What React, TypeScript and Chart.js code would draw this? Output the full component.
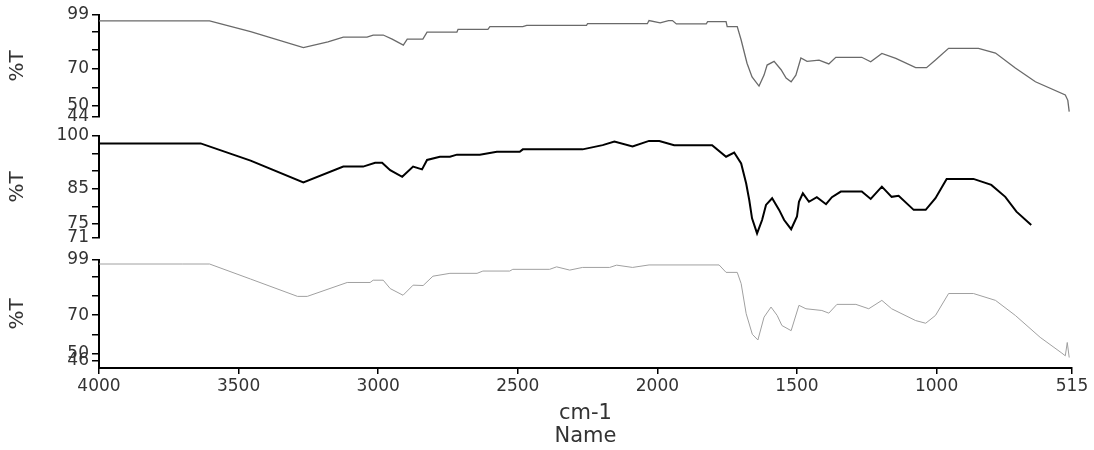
import { useEffect, useRef } from 'react';
import Chart from 'chart.js/auto';

// x axis (wavenumber, cm-1), drawn high -> low
const xTicks = [4000, 3500, 3000, 2500, 2000, 1500, 1000, 515];

// top spectrum
const wn1 = [4000, 3700, 3604, 3457, 3268, 3180, 3125, 3040, 3018, 2982, 2950, 2910, 2896, 2840, 2825, 2718, 2714, 2607, 2600, 2482, 2468, 2254, 2250, 2036, 2030, 1990, 1960, 1946, 1932, 1825, 1820, 1754, 1750, 1714, 1700, 1679, 1661, 1636, 1618, 1607, 1582, 1557, 1539, 1521, 1504, 1486, 1464, 1421, 1386, 1361, 1314, 1268, 1236, 1196, 1146, 1075, 1036, 1004, 957, 850, 789, 718, 646, 539, 530, 525];
const t1 = [95.8, 95.8, 95.8, 90, 81.4, 84.5, 87.1, 87.1, 88.2, 88.2, 86, 82.8, 86, 86, 89.8, 89.8, 91.3, 91.3, 92.7, 92.7, 93.4, 93.4, 94.3, 94.3, 96, 94.8, 96, 96, 94.2, 94.2, 95.4, 95.4, 92.7, 92.7, 85.5, 73, 65.6, 60.7, 66.6, 72, 74, 69.5, 65, 63, 66.6, 75.8, 74, 74.7, 72.6, 76.2, 76.2, 76.2, 73.8, 78.3, 75.6, 70.6, 70.6, 74.7, 81, 81, 78.5, 70.4, 63, 55.9, 53, 46.9];
const ticks1 = [99, 90, 80, 70, 60, 50, 44];
const labels1 = [99, 70, 50, 44];

// middle spectrum
const wn2 = [4000, 3700, 3636, 3457, 3268, 3125, 3054, 3011, 2986, 2957, 2914, 2875, 2843, 2825, 2779, 2743, 2718, 2636, 2575, 2493, 2482, 2268, 2196, 2154, 2089, 2030, 1993, 1940, 1804, 1754, 1725, 1700, 1682, 1671, 1661, 1643, 1625, 1611, 1589, 1564, 1546, 1521, 1500, 1493, 1479, 1457, 1429, 1396, 1375, 1343, 1268, 1236, 1196, 1161, 1136, 1082, 1039, 1004, 964, 868, 804, 754, 714, 661];
const t2 = [97.9, 97.9, 97.9, 93, 86.8, 91.3, 91.3, 92.4, 92.4, 90.3, 88.4, 91.3, 90.5, 93.2, 94.1, 94.1, 94.7, 94.7, 95.5, 95.5, 96.2, 96.2, 97.4, 98.4, 97, 98.6, 98.6, 97.4, 97.4, 94.1, 95.3, 92.2, 86.5, 81.8, 76.6, 72.3, 76.1, 80.4, 82.3, 79, 76.1, 73.5, 77.1, 81.3, 83.7, 81.3, 82.6, 80.6, 82.6, 84.2, 84.2, 82.1, 85.6, 82.7, 83, 79, 79, 82.3, 87.8, 87.8, 86.1, 82.7, 78.5, 74.7];
const ticks2 = [100, 95, 90, 85, 80, 75, 71];
const labels2 = [100, 85, 75, 71];

// bottom spectrum
const wn3 = [4000, 3700, 3604, 3457, 3289, 3254, 3111, 3029, 3018, 2982, 2957, 2911, 2875, 2839, 2804, 2743, 2646, 2625, 2529, 2518, 2386, 2361, 2314, 2268, 2171, 2146, 2089, 2030, 1779, 1754, 1714, 1700, 1682, 1660, 1640, 1618, 1593, 1571, 1554, 1521, 1493, 1468, 1411, 1386, 1357, 1289, 1243, 1196, 1161, 1075, 1039, 1004, 957, 868, 789, 718, 629, 554, 539, 532, 525];
const t3 = [96.9, 96.9, 96.9, 89, 79.9, 79.9, 87.2, 87.2, 88.4, 88.4, 84, 80.5, 85.8, 85.6, 90.5, 92, 92, 93.2, 93.2, 94.1, 94.1, 95.4, 93.7, 95.1, 95.1, 96.3, 95.1, 96.4, 96.4, 92.5, 92.5, 86.6, 70.8, 60, 57, 69, 74.3, 69.9, 64.6, 61.9, 75.2, 73.4, 72.5, 71.1, 75.7, 75.7, 73.4, 77.8, 73.4, 67.2, 65.8, 69.9, 81.4, 81.4, 77.8, 69.9, 58.4, 50.4, 48.7, 55.7, 47.8];
const ticks3 = [99, 90, 80, 70, 60, 50, 46];
const labels3 = [99, 70, 50, 46];

const FONT = 'DejaVu Sans';

type PanelProps = {
  wn: number[];
  t: number[];
  yMin: number;
  yMax: number;
  yTicks: number[];
  yLabels: number[];
  color: string;
  lineWidth: number;
  padTop: number;
  padBottom: number;
  showX: boolean;
};

const SpectrumPanel = (p: PanelProps) => {
  const chartRef = useRef<HTMLCanvasElement>(null);
  const chartInstance = useRef<Chart | null>(null);

  useEffect(() => {
    if (chartInstance.current) {
      chartInstance.current.destroy();
    }
    if (!chartRef.current) return;

    const points = p.wn.map((x, i) => ({ x, y: p.t[i] }));

    chartInstance.current = new Chart(chartRef.current, {
      type: 'line',
      data: {
        datasets: [
          {
            data: points,
            borderColor: p.color,
            borderWidth: p.lineWidth,
            pointRadius: 0,
            tension: 0,
            fill: false,
          },
        ],
      },
      options: {
        animation: false,
        responsive: true,
        maintainAspectRatio: false,
        events: [],
        layout: {
          padding: { top: p.padTop, bottom: p.padBottom, left: 0, right: 22 },
        },
        plugins: {
          legend: { display: false },
          tooltip: { enabled: false },
        },
        scales: {
          x: {
            type: 'linear',
            reverse: true,
            min: 515,
            max: 4000,
            display: p.showX,
            afterBuildTicks: (s: any) => {
              s.ticks = xTicks.map((v) => ({ value: v }));
            },
            afterFit: (s: any) => {
              // only the bottom panel carries the x axis
              s.height = p.showX ? 82 : 0;
            },
            grid: {
              display: true,
              drawOnChartArea: false,
              drawTicks: true,
              tickLength: 6,
              color: '#000',
              lineWidth: 1.5,
            },
            border: { display: true, color: '#000', width: 2 },
            ticks: {
              autoSkip: false,
              maxRotation: 0,
              padding: 2,
              color: '#333',
              font: { family: FONT, size: 17 },
              callback: (v: any) => String(v),
            },
            title: {
              display: true,
              text: ['cm-1', 'Name'],
              color: '#333',
              font: { family: FONT, size: 21, lineHeight: 1.1 },
              padding: { top: 0, bottom: 2 },
            },
          },
          y: {
            type: 'linear',
            min: p.yMin,
            max: p.yMax,
            afterBuildTicks: (s: any) => {
              s.ticks = p.yTicks.map((v) => ({ value: v }));
            },
            afterFit: (s: any) => {
              s.width = 99;
            },
            grid: {
              display: true,
              drawOnChartArea: false,
              drawTicks: true,
              tickLength: 7,
              color: '#000',
              lineWidth: 1.5,
            },
            border: { display: true, color: '#000', width: 2 },
            ticks: {
              autoSkip: false,
              padding: 3,
              color: '#333',
              font: { family: FONT, size: 17 },
              callback: (v: any) => (p.yLabels.includes(Number(v)) ? String(v) : ''),
            },
            title: {
              display: true,
              text: '%T',
              color: '#333',
              font: { family: FONT, size: 20 },
              padding: { top: 6, bottom: 0 },
            },
          },
        },
      },
    });

    return () => {
      if (chartInstance.current) {
        chartInstance.current.destroy();
        chartInstance.current = null;
      }
    };
  }, []);

  return (
    <div style={{ position: 'absolute', left: 0, top: 0, width: 1094, height: 450 }}>
      <canvas ref={chartRef}></canvas>
    </div>
  );
};

const App = () => {
  return (
    <div style={{ position: 'absolute', left: 0, top: 0, width: 1094, height: 450, background: '#fff' }}>
      <SpectrumPanel wn={wn1} t={t1} yMin={44} yMax={99} yTicks={ticks1} yLabels={labels1}
        color="#6a6a6a" lineWidth={1.3} padTop={15} padBottom={333} showX={false} />
      <SpectrumPanel wn={wn2} t={t2} yMin={71} yMax={100} yTicks={ticks2} yLabels={labels2}
        color="#000" lineWidth={2} padTop={136} padBottom={212} showX={false} />
      <SpectrumPanel wn={wn3} t={t3} yMin={42.3} yMax={99} yTicks={ticks3} yLabels={labels3}
        color="#a0a0a0" lineWidth={1} padTop={260} padBottom={0} showX={true} />
    </div>
  );
};

export default App;
